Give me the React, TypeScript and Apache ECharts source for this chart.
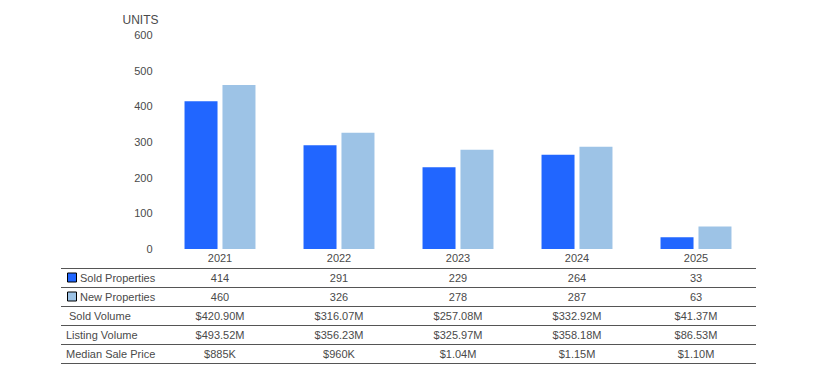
import React, { useEffect, useRef } from "react";
import * as echarts from "echarts";

const years = ["2021", "2022", "2023", "2024", "2025"];
const soldProperties = [414, 291, 229, 264, 33];
const newProperties = [460, 326, 278, 287, 63];
const soldVolume = ["$420.90M", "$316.07M", "$257.08M", "$332.92M", "$41.37M"];
const listingVolume = ["$493.52M", "$356.23M", "$325.97M", "$358.18M", "$86.53M"];
const medianSalePrice = ["$885K", "$960K", "$1.04M", "$1.15M", "$1.10M"];
const yTicks = [0, 100, 200, 300, 400, 500, 600];

const SOLD_COLOR = "#2166FF";
const NEW_COLOR = "#9DC3E6";
const TEXT = "#4a4a4a";
const FONT = "Arial, 'Liberation Sans', sans-serif";

export default function App() {
  const ref = useRef<HTMLDivElement>(null);
  useEffect(() => {
    const chart = echarts.init(ref.current!, undefined, { renderer: "svg" });
    const gridLeft = 160.5;
    const gridRight = 814 - 755.5;
    chart.setOption({
      animation: false,
      grid: { left: gridLeft, right: gridRight, top: 35, bottom: 384 - 249 },
      xAxis: {
        type: "category",
        data: years,
        axisLine: { show: false },
        axisTick: { show: false },
        axisLabel: { color: TEXT, fontSize: 11, fontFamily: FONT, margin: 3 },
      },
      yAxis: {
        type: "value",
        min: yTicks[0],
        max: yTicks[yTicks.length - 1],
        interval: 100,
        name: "UNITS",
        nameLocation: "end",
        nameGap: 9,
        nameTextStyle: { color: TEXT, fontSize: 12, fontFamily: FONT, align: "right", padding: [0, 2, 0, 0] },
        splitLine: { show: false },
        axisLine: { show: false },
        axisTick: { show: false },
        axisLabel: { color: TEXT, fontSize: 11, fontFamily: FONT, margin: 8 },
      },
      series: [
        { name: "Sold Properties", type: "bar", data: soldProperties, barWidth: 33, barGap: "15%", itemStyle: { color: SOLD_COLOR } },
        { name: "New Properties", type: "bar", data: newProperties, barWidth: 33, itemStyle: { color: NEW_COLOR } },
      ],
    });

    const rowTop = 268;
    const rowH = 19;
    const lineLeft = 61;
    const lineRight = 756;
    const rows: { label: string; values: (string | number)[]; swatch?: string; labelX: number }[] = [
      { label: "Sold Properties", values: soldProperties, swatch: SOLD_COLOR, labelX: 80 },
      { label: "New Properties", values: newProperties, swatch: NEW_COLOR, labelX: 80 },
      { label: "Sold Volume", values: soldVolume, labelX: 69 },
      { label: "Listing Volume", values: listingVolume, labelX: 66 },
      { label: "Median Sale Price", values: medianSalePrice, labelX: 66 },
    ];
    const elements: any[] = [];
    for (let i = 0; i <= rows.length; i++) {
      const y = rowTop + i * rowH + 0.5;
      elements.push({
        type: "line",
        shape: { x1: lineLeft, y1: y, x2: lineRight, y2: y },
        style: { stroke: "#555", lineWidth: 1 },
      });
    }
    rows.forEach((r, i) => {
      const cy = rowTop + i * rowH + rowH / 2 + 0.5;
      if (r.swatch) {
        elements.push({
          type: "rect",
          shape: { x: 67.5, y: cy - 5, width: 9, height: 9 },
          style: { fill: r.swatch, stroke: "#000", lineWidth: 1 },
        });
      }
      elements.push({
        type: "text",
        x: r.labelX,
        y: cy,
        style: { text: r.label, fill: TEXT, font: `11px ${FONT}`, textAlign: "left", textVerticalAlign: "middle" },
      });
      r.values.forEach((v, j) => {
        const x = chart.convertToPixel({ xAxisIndex: 0 }, years[j]) as number;
        elements.push({
          type: "text",
          x,
          y: cy,
          style: { text: String(v), fill: TEXT, font: `11px ${FONT}`, textAlign: "center", textVerticalAlign: "middle" },
        });
      });
    });
    chart.setOption({ graphic: { elements } });
    return () => chart.dispose();
  }, []);
  return <div ref={ref} style={{ position: "fixed", left: 0, top: 0, width: 814, height: 384, background: "#fff" }} />;
}
